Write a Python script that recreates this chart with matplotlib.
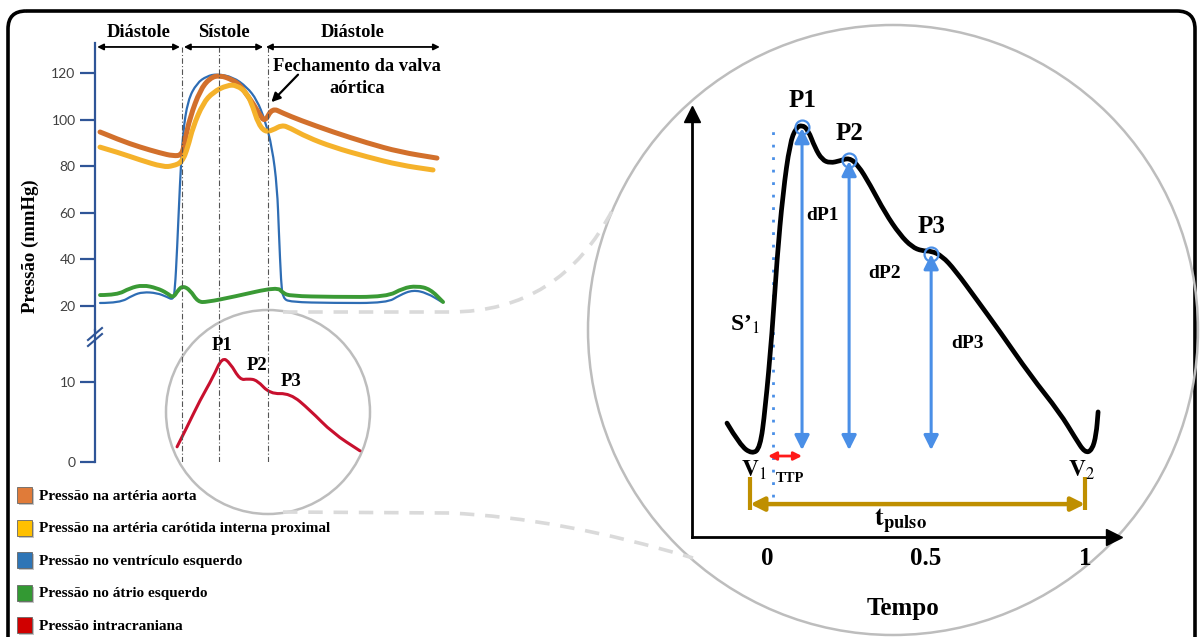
import matplotlib.pyplot as plt
from matplotlib.patches import Circle, FancyBboxPatch, PathPatch, Rectangle
from matplotlib.path import Path

plt.rcParams['mathtext.fontset'] = 'stix'
SERIF = 'Liberation Serif'
SANS = 'Lato'

# ---------------- left panel: cardiac cycle (time in s, pressure in mmHg) ----------------
t_aorta = [0.014, 0.069, 0.125, 0.181, 0.217, 0.242, 0.250, 0.264, 0.292, 0.319, 0.347,
           0.383, 0.403, 0.422, 0.439, 0.458, 0.472, 0.492, 0.522, 0.569, 0.661, 0.756, 0.847, 0.950]
p_aorta = [94.7, 91.2, 88.2, 85.7, 84.4, 84.8, 91.2, 101.0, 112.7, 117.9, 119.1,
           117.0, 114.8, 110.6, 107.0, 102.0, 99.0, 105.0, 102.8, 99.8, 94.7, 90.0, 86.1, 83.5]

t_carotid = [0.014, 0.069, 0.125, 0.189, 0.217, 0.242, 0.258, 0.272, 0.300, 0.328, 0.367, 0.394,
             0.422, 0.439, 0.453, 0.472, 0.494, 0.519, 0.542, 0.589, 0.661, 0.756, 0.847, 0.939]
p_carotid = [88.2, 85.7, 82.7, 79.7, 80.1, 81.8, 88.2, 96.8, 107.0, 111.8, 114.8, 114.8,
             111.4, 105.4, 98.5, 94.7, 95.5, 97.7, 96.4, 92.5, 88.2, 84.0, 80.5, 78.4]

t_ventricle = [0.014, 0.069, 0.106, 0.133, 0.172, 0.200, 0.217, 0.222, 0.228, 0.236, 0.244, 0.258,
               0.283, 0.311, 0.339, 0.383, 0.422, 0.450, 0.472, 0.492, 0.506, 0.511, 0.517, 0.522,
               0.542, 0.661, 0.811, 0.847, 0.883, 0.922, 0.964]
p_ventricle = [21.3, 21.3, 24.7, 26.0, 25.6, 23.9, 22.6, 26.9, 44.0, 72.8, 94.2, 108.4,
               115.7, 118.7, 119.6, 118.3, 114.0, 108.4, 99.8, 88.2, 71.0, 51.3, 29.9, 23.4,
               21.7, 21.3, 21.3, 24.7, 26.9, 25.6, 21.7]

t_atrium = [0.014, 0.061, 0.097, 0.133, 0.172, 0.200, 0.217, 0.231, 0.244, 0.264, 0.286, 0.311,
            0.383, 0.506, 0.522, 0.542, 0.661, 0.811, 0.856, 0.894, 0.931, 0.967]
p_atrium = [24.7, 24.7, 27.7, 29.0, 27.7, 25.6, 23.4, 26.9, 28.6, 26.9, 21.7, 21.7,
            23.9, 28.2, 25.6, 24.3, 23.9, 23.9, 27.7, 28.6, 27.3, 21.7]

t_icp = [0.228, 0.256, 0.292, 0.328, 0.353, 0.375, 0.403, 0.425, 0.450, 0.486, 0.542, 0.597, 0.661, 0.736]
p_icp = [1.9, 4.4, 7.75, 10.6, 13.1, 12.4, 10.25, 10.4, 10.25, 8.5, 8.6, 6.5, 3.6, 1.4]
icp_peak_labels = ['P1', 'P2', 'P3']
icp_peak_t = [0.353, 0.450, 0.545]
icp_peak_p = [14.6, 12.0, 10.0]

phase_labels = ['Diástole', 'Sístole', 'Diástole']
phase_start = [0.006, 0.247, 0.475]
phase_end = [0.236, 0.467, 0.958]
phase_marks = [0.242, 0.344, 0.481]

upper_ticks = [20, 40, 60, 80, 100, 120]
lower_ticks = [0, 10]

legend_labels = ['Pressão na artéria aorta', 'Pressão na artéria carótida interna proximal',
                 'Pressão no ventrículo esquerdo', 'Pressão no átrio esquerdo', 'Pressão intracraniana']
legend_colors = ['#E07B39', '#FFC000', '#2E75B6', '#339933', '#D00000']

# ---------------- right panel: ICP pulse (normalised time / amplitude) ----------------
t_pulse = [-0.126, -0.085, -0.047, -0.022, -0.006, 0.016, 0.031, 0.050, 0.072, 0.091, 0.110, 0.129,
           0.151, 0.173, 0.198, 0.230, 0.258, 0.286, 0.324, 0.371, 0.418, 0.456, 0.487, 0.516,
           0.550, 0.591, 0.660, 0.733, 0.827, 0.921, 0.969, 1.000, 1.022, 1.035, 1.041]
y_pulse = [0.094, 0.027, 0.000, 0.018, 0.134, 0.368, 0.590, 0.793, 0.945, 0.991, 1.000, 0.985,
           0.930, 0.894, 0.884, 0.891, 0.900, 0.878, 0.818, 0.733, 0.666, 0.629, 0.617, 0.617,
           0.602, 0.559, 0.468, 0.371, 0.240, 0.125, 0.049, 0.003, 0.012, 0.058, 0.128]
peak_names = ['P1', 'P2', 'P3']
peak_t = [0.110, 0.258, 0.516]
peak_y = [1.0, 0.9, 0.617]
diff_names = ['dP1', 'dP2', 'dP3']

fig = plt.figure(figsize=(12.01, 6.37), dpi=100)
W, H = 1201, 637


def px_axes(left, top, right, bottom):
    return fig.add_axes([left / W, 1 - bottom / H, (right - left) / W, (bottom - top) / H])


def smooth_curve(ax, x, y, **kw):
    # quadratic bezier through the midpoints, the read points act as control points
    verts = [(x[0], y[0])]
    codes = [Path.MOVETO]
    for i in range(1, len(x) - 1):
        verts += [(x[i], y[i]), ((x[i] + x[i + 1]) / 2, (y[i] + y[i + 1]) / 2)]
        codes += [Path.CURVE3, Path.CURVE3]
    verts.append((x[-1], y[-1]))
    codes.append(Path.LINETO)
    ax.add_patch(PathPatch(Path(verts, codes), fill=False, capstyle='round',
                           joinstyle='round', **kw))


# background layer in pixel units: frame, lenses, legend
bg = px_axes(0, 0, W, H)
bg.set_xlim(0, W)
bg.set_ylim(H, 0)
bg.axis('off')

bg.add_patch(FancyBboxPatch((8, 11), 1187, 680, boxstyle='round,pad=0,rounding_size=18',
                            fill=False, ec='black', lw=2.6))
bg.add_patch(Circle((268, 412), 102, fill=False, ec='#BDBDBD', lw=1.8))
bg.add_patch(Circle((893, 330), 305, fill=False, ec='#BDBDBD', lw=1.8))

up = Path([(283, 312), (450, 312), (560, 312), (613, 209)],
          [Path.MOVETO, Path.LINETO, Path.CURVE3, Path.CURVE3])
low = Path([(283, 512), (450, 513), (560, 518), (693, 558)],
           [Path.MOVETO, Path.LINETO, Path.CURVE3, Path.CURVE3])
for p in (up, low):
    bg.add_patch(PathPatch(p, fill=False, ec='#DADADA', lw=2.6, ls=(0, (4, 3))))

for i, (lab, col) in enumerate(zip(legend_labels, legend_colors)):
    yc = 496 + i * 32.5
    bg.add_patch(Rectangle((19, yc - 7), 15, 16, fc='#9E9E9E', ec='none', alpha=0.6))
    bg.add_patch(Rectangle((17, yc - 9), 15, 16, fc=col, ec='#666666', lw=0.6))
    bg.text(39, yc, lab, fontsize=11, fontweight='bold', family=SERIF, va='center', ha='left')

bg.text(30, 246, 'Pressão (mmHg)', rotation=90, fontsize=13.5, fontweight='bold',
        family=SERIF, ha='center', va='center')

# break marks on the pressure axis
for dy in (0, 6):
    bg.plot([88, 102], [346 - dy, 334 - dy], color='#2F5597', lw=1.5)

# ---------------- left panel, upper part ----------------
axis_col = '#2F5597'
ax_up = px_axes(95, 43, 460, 330)
ax_up.set_xlim(0, 1.014)
ax_up.set_ylim(9.7, 132.9)
ax_up.patch.set_alpha(0)
for s in ['top', 'right', 'bottom']:
    ax_up.spines[s].set_visible(False)
ax_up.spines['left'].set_color(axis_col)
ax_up.spines['left'].set_linewidth(1.6)
ax_up.set_xticks([])
ax_up.set_yticks(upper_ticks)
ax_up.tick_params(axis='y', length=11, width=1.6, color=axis_col, pad=3,
                  labelsize=10, labelcolor='#404040')
for lab in ax_up.get_yticklabels():
    lab.set_family(SANS)

ax_up.vlines(phase_marks, 9.7, 131.2, colors='#555555', lw=0.8, ls=(0, (5, 2, 1, 2)))
smooth_curve(ax_up, t_ventricle, p_ventricle, ec='#2E6DB4', lw=1.6)
smooth_curve(ax_up, t_aorta, p_aorta, ec='#D2702C', lw=3.6)
smooth_curve(ax_up, t_carotid, p_carotid, ec='#F5B22B', lw=3.6)
smooth_curve(ax_up, t_atrium, p_atrium, ec='#3A9A35', lw=2.8)

for lab, a, b in zip(phase_labels, phase_start, phase_end):
    ax_up.annotate('', xy=(a, 131.2), xytext=(b, 131.2), annotation_clip=False,
                   arrowprops=dict(arrowstyle='<|-|>', color='black', lw=1.3,
                                   mutation_scale=9, shrinkA=0, shrinkB=0))
    ax_up.text((a + b) / 2, 137.5, lab, fontsize=13.3, fontweight='bold', family=SERIF,
               ha='center', va='center', clip_on=False)

ax_up.text(0.728, 118.0, 'Fechamento da valva\naórtica', fontsize=13.3, fontweight='bold',
           family=SERIF, ha='center', va='center', linespacing=1.35, clip_on=False)
ax_up.annotate('', xy=(0.490, 107.5), xytext=(0.564, 119.3), annotation_clip=False,
               arrowprops=dict(arrowstyle='-|>', color='black', lw=1.6, mutation_scale=13,
                               shrinkA=0, shrinkB=0))

# ---------------- left panel, ICP part ----------------
ax_lo = px_axes(95, 330, 460, 462)
ax_lo.set_xlim(0, 1.014)
ax_lo.set_ylim(0, 16.5)
ax_lo.patch.set_alpha(0)
for s in ['top', 'right', 'bottom']:
    ax_lo.spines[s].set_visible(False)
ax_lo.spines['left'].set_color(axis_col)
ax_lo.spines['left'].set_linewidth(1.6)
ax_lo.set_xticks([])
ax_lo.set_yticks(lower_ticks)
ax_lo.tick_params(axis='y', length=11, width=1.6, color=axis_col, pad=3,
                  labelsize=10, labelcolor='#404040')
for lab in ax_lo.get_yticklabels():
    lab.set_family(SANS)
ax_lo.vlines(phase_marks, 0, 16.5, colors='#555555', lw=0.8, ls=(0, (5, 2, 1, 2)))
smooth_curve(ax_lo, t_icp, p_icp, ec='#C8102E', lw=2.2)
for lab, t, p in zip(icp_peak_labels, icp_peak_t, icp_peak_p):
    ax_lo.text(t, p, lab, fontsize=13.5, fontweight='bold', family=SERIF, ha='center', va='center')

# ---------------- right panel ----------------
blue = '#4A8FE7'
gold = '#BF8F00'
ax_r = px_axes(692, 114, 1114, 537)
ax_r.set_xlim(-0.236, 1.091)
ax_r.set_ylim(-0.252, 1.033)
ax_r.patch.set_alpha(0)
for s in ['top', 'right']:
    ax_r.spines[s].set_visible(False)
for s in ['left', 'bottom']:
    ax_r.spines[s].set_linewidth(2)
ax_r.plot(1, 0, '>', color='black', ms=11, transform=ax_r.transAxes, clip_on=False)
ax_r.plot(0, 1, '^', color='black', ms=11, transform=ax_r.transAxes, clip_on=False)
ax_r.set_yticks([])
ax_r.set_xticks([0, 0.5, 1], ['0', '0.5', '1'])
ax_r.tick_params(axis='x', length=0, pad=7, labelsize=18)
for lab in ax_r.get_xticklabels():
    lab.set_fontweight('bold')
    lab.set_family(SERIF)
ax_r.set_xlabel('Tempo', fontsize=18, fontweight='bold', family=SERIF, labelpad=20)

ax_r.vlines(0.019, -0.131, 1.006, colors=blue, lw=2, ls=(0, (1, 3.5)))
for t, y in zip(peak_t, peak_y):
    ax_r.annotate('', xy=(t, y - 0.01), xytext=(t, 0.012),
                  arrowprops=dict(arrowstyle='<|-|>', color=blue, lw=2.2,
                                  mutation_scale=22, shrinkA=0, shrinkB=0))
smooth_curve(ax_r, t_pulse, y_pulse, ec='black', lw=3.4, zorder=4)
ax_r.plot(peak_t, [y - 0.008 for y in peak_y], 'o', mfc='none', mec=blue, mew=1.6, ms=10, zorder=5)

for name, t, y in zip(peak_names, peak_t, peak_y):
    ax_r.text(t, y + 0.075, name, fontsize=18, fontweight='bold', family=SERIF,
              ha='center', va='center')
for name, t, y in zip(diff_names, [0.173, 0.368, 0.629], [0.726, 0.547, 0.337]):
    ax_r.text(t, y, name, fontsize=14, fontweight='bold', family=SERIF, ha='center', va='center')

ax_r.text(-0.069, 0.392, 'S’$_{1}$', fontsize=17, fontweight='bold', family=SERIF,
          ha='center', va='center')
ax_r.text(-0.04, -0.049, '$\\mathbf{V}_{1}$', fontsize=17, ha='center', va='center')
ax_r.text(0.99, -0.049, '$\\mathbf{V}_{2}$', fontsize=17, ha='center', va='center')

ax_r.annotate('', xy=(0.003, -0.006), xytext=(0.110, -0.006),
              arrowprops=dict(arrowstyle='<|-|>', color='#FF1A1A', lw=2,
                              mutation_scale=12, shrinkA=0, shrinkB=0))
ax_r.text(0.072, -0.073, 'TTP', fontsize=10.5, fontweight='bold', family=SERIF,
          ha='center', va='center')

ax_r.vlines([-0.053, 1.0], -0.17, -0.07, colors=gold, lw=3)
ax_r.annotate('', xy=(-0.053, -0.152), xytext=(1.0, -0.152),
              arrowprops=dict(arrowstyle='<|-|>', color=gold, lw=3.2,
                              mutation_scale=20, shrinkA=0, shrinkB=0))
ax_r.text(0.418, -0.205, '$\\mathbf{t}_{\\mathbf{pulso}}$', fontsize=19, ha='center', va='center')

fig.savefig('out.png', dpi=100)
